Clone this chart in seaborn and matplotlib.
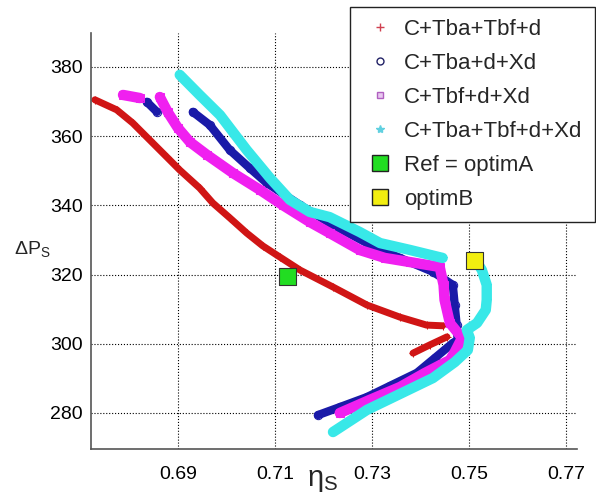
import matplotlib
matplotlib.use("Agg")
import matplotlib.pyplot as plt
from matplotlib.lines import Line2D
import pandas as pd
import seaborn as sns

# curve points (eta_s, delta P_s), seg = separate pieces of one run
red_x = [0.6729, 0.6774, 0.6807, 0.6842, 0.6877, 0.6904, 0.6945, 0.6972, 0.7007, 0.7042,
         0.7075, 0.7110, 0.7152, 0.7220, 0.7290, 0.7358, 0.7413, 0.7446,
         0.7385, 0.7420, 0.7455]
red_y = [370.5, 367.6, 363.8, 358.9, 354.0, 350.2, 345.0, 340.7, 336.4, 332.0,
         328.3, 325.1, 321.3, 316.4, 311.2, 307.7, 305.4, 305.2,
         297.3, 299.7, 302.0]
red_seg = [0] * 18 + [1] * 3

blue_x = [0.6836, 0.6857,
          0.6931, 0.6966, 0.7007, 0.7048, 0.7083, 0.7152, 0.7220, 0.7290, 0.7358, 0.7426,
          0.7467, 0.7471, 0.7475, 0.7477, 0.7467, 0.7430, 0.7393, 0.7337, 0.7290, 0.7234, 0.7189]
blue_y = [369.9, 367.0,
          367.0, 363.2, 356.0, 350.8, 346.5, 340.1, 334.3, 329.1, 324.8, 320.8,
          317.0, 311.2, 305.4, 301.1, 300.2, 295.9, 291.6, 287.8, 284.6, 281.7, 279.4]
blue_seg = [0] * 2 + [1] * 21

mag_x = [0.6787, 0.6822,
         0.6863, 0.6879, 0.6900, 0.6925, 0.6960, 0.7013, 0.7069, 0.7116, 0.7172, 0.7213,
         0.7275, 0.7327, 0.7379, 0.7440, 0.7448, 0.7450, 0.7461, 0.7486, 0.7471, 0.7461,
         0.7410, 0.7358, 0.7296, 0.7234]
mag_y = [371.9, 371.0,
         371.3, 367.0, 362.4, 358.3, 354.6, 349.4, 344.5, 340.1, 335.2, 332.0,
         327.1, 324.8, 323.6, 322.2, 317.0, 312.7, 306.0, 301.7, 297.6, 295.3,
         291.6, 287.5, 283.8, 280.0]
mag_seg = [0] * 2 + [1] * 24

cyan_x = [0.6904, 0.6945, 0.6987, 0.7042, 0.7090, 0.7131, 0.7172, 0.7213, 0.7275, 0.7317,
          0.7379, 0.7446,
          0.7517, 0.7527, 0.7537, 0.7537, 0.7535, 0.7517, 0.7496, 0.7502, 0.7498, 0.7471,
          0.7426, 0.7358, 0.7290, 0.7220]
cyan_y = [377.7, 371.9, 366.1, 356.0, 347.9, 341.6, 338.1, 336.6, 332.3, 329.1,
          327.1, 324.8,
          323.6, 321.3, 317.0, 312.7, 309.8, 306.0, 304.0, 301.7, 298.2, 294.7,
          290.1, 285.5, 280.9, 274.5]
cyan_seg = [0] * 12 + [1] * 14

ref_pt = (0.7127, 319.3)
optimb_pt = (0.7512, 324.2)

labels = ["C+Tba+Tbf+d", "C+Tba+d+Xd", "C+Tbf+d+Xd", "C+Tba+Tbf+d+Xd",
          "Ref = optimA", "optimB"]

sns.set_style("white")
plt.rcParams["font.family"] = ["Liberation Sans", "DejaVu Sans"]
plt.rcParams["mathtext.fontset"] = "custom"
plt.rcParams["mathtext.rm"] = "Liberation Sans"
plt.rcParams["mathtext.it"] = "Liberation Sans"

fig = plt.figure(figsize=(5.96, 4.97), dpi=100)
ax = fig.add_axes([0.1527, 0.0966, 0.8153, 0.837])

series = [
    (red_x, red_y, red_seg, "#d01515", "+", 5.0),
    (blue_x, blue_y, blue_seg, "#1a1aa8", "o", 6.0),
    (mag_x, mag_y, mag_seg, "#f020f0", "s", 7.5),
    (cyan_x, cyan_y, cyan_seg, "#38e8e8", "*", 7.5),
]
for xs, ys, seg, col, mk, lw in series:
    df = pd.DataFrame({"eta": xs, "dp": ys, "seg": seg})
    sns.lineplot(data=df, x="eta", y="dp", units="seg", estimator=None, sort=False,
                 color=col, lw=lw, marker=mk, markersize=6, markeredgecolor=col,
                 markerfacecolor="none" if mk in ("o", "s") else col,
                 solid_capstyle="round", solid_joinstyle="round", ax=ax, legend=False)

pts = pd.DataFrame({"eta": [ref_pt[0], optimb_pt[0]], "dp": [ref_pt[1], optimb_pt[1]],
                    "name": labels[4:]})
sns.scatterplot(data=pts, x="eta", y="dp", hue="name", palette=["#22dd22", "#f2ee10"],
                marker="s", s=150, edgecolor="#333333", linewidth=0.8, zorder=5,
                ax=ax, legend=False)

ax.set_xlim(0.6721, 0.7723)
ax.set_ylim(269.6, 389.8)
ax.set_xticks([0.69, 0.71, 0.73, 0.75, 0.77])
ax.set_yticks([280, 300, 320, 340, 360, 380])
ax.set_xticklabels(["0.69", "0.71", "0.73", "0.75", "0.77"])
ax.grid(True, color="black", linestyle=":", linewidth=0.8)
ax.tick_params(direction="in", length=4, labelsize=14, colors="#555555",
               labelcolor="black", pad=6)
ax.tick_params(axis="x", pad=12)
for s in ["top", "right"]:
    ax.spines[s].set_visible(False)
for s in ["left", "bottom"]:
    ax.spines[s].set_color("#555555")
    ax.spines[s].set_linewidth(1.2)

ax.set_xlabel(r"$\eta_\mathrm{S}$", fontsize=21, va="center")
ax.xaxis.set_label_coords(0.477, -0.075)
ax.set_ylabel(r"$\Delta$P$_\mathrm{S}$", fontsize=14, rotation=0, va="center", ha="center")
ax.yaxis.set_label_coords(-0.12, 0.48)

handles = [
    Line2D([], [], ls="none", marker="+", color="#d04050", markersize=6),
    Line2D([], [], ls="none", marker="o", color="#222266", markerfacecolor="none", markersize=5),
    Line2D([], [], ls="none", marker="s", color="#b060c0", markerfacecolor="#e8c8f0", markersize=5),
    Line2D([], [], ls="none", marker="*", color="#60d0e0", markersize=6),
    Line2D([], [], ls="none", marker="s", markerfacecolor="#22dd22", markeredgecolor="#222222", markersize=12),
    Line2D([], [], ls="none", marker="s", markerfacecolor="#f2ee10", markeredgecolor="#222222", markersize=12),
]
leg = fig.legend(handles, labels, loc="upper right", bbox_to_anchor=(0.998, 0.986),
                 fontsize=16, frameon=True, fancybox=False, framealpha=1,
                 borderpad=0.55, handlelength=1.6, handletextpad=0.3, labelspacing=0.58,
                 borderaxespad=0)
leg.get_frame().set_edgecolor("#222222")
leg.get_frame().set_linewidth(1.0)

fig.savefig("out.png", dpi=100)
